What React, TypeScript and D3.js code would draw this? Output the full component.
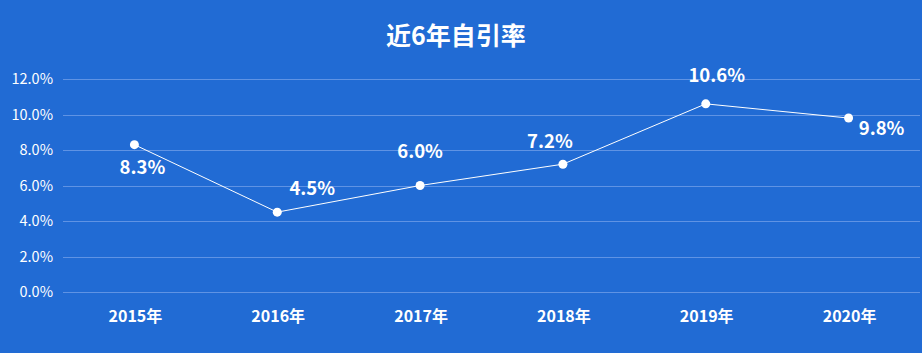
import React, { useRef, useEffect } from "react";
import * as d3 from "d3";

const years = ["2015年", "2016年", "2017年", "2018年", "2019年", "2020年"];
const rates = [8.3, 4.5, 6.0, 7.2, 10.6, 9.8];
const yTicks = [0, 2, 4, 6, 8, 10, 12];
// label offset from its point (dx, dy of text centre)
const labelDx = [8, 35, 0, -13, 11, 33];
const labelDy = [23, -24, -34, -23, -28, 10];

const FONT = "'Noto Sans CJK SC', 'Noto Sans', sans-serif";

function App() {
  const svgRef = useRef<SVGSVGElement | null>(null);

  useEffect(() => {
    const width = 922;
    const height = 353;
    const margin = { top: 79, right: 2, bottom: 61, left: 63 };

    const svg = d3.select(svgRef.current).attr("width", width).attr("height", height);
    svg.selectAll("*").remove();

    svg.append("rect").attr("width", width).attr("height", height).attr("fill", "#216bd4");

    const x = d3.scaleBand().domain(years).range([margin.left, width - margin.right]);
    const y = d3.scaleLinear().domain([0, 12]).range([height - margin.bottom, margin.top]);
    const cx = (i: number) => (x(years[i]) as number) + x.bandwidth() / 2;

    // Title
    svg.append("text")
      .attr("x", width / 2 - 5)
      .attr("y", 45)
      .attr("text-anchor", "middle")
      .attr("font-family", FONT)
      .attr("font-size", 25)
      .attr("font-weight", "bold")
      .attr("fill", "#fff")
      .text("近6年自引率");

    // Grid
    svg.append("g")
      .selectAll("line")
      .data(yTicks)
      .enter()
      .append("line")
      .attr("x1", margin.left)
      .attr("x2", width - margin.right)
      .attr("y1", (d) => Math.round(y(d)) + 0.5)
      .attr("y2", (d) => Math.round(y(d)) + 0.5)
      .attr("stroke", "#5f93e4")
      .attr("stroke-width", 1);

    // Y axis labels
    svg.append("g")
      .selectAll("text")
      .data(yTicks)
      .enter()
      .append("text")
      .attr("x", 53)
      .attr("y", (d) => y(d))
      .attr("dy", "0.35em")
      .attr("text-anchor", "end")
      .attr("font-family", FONT)
      .attr("font-size", 14.5)
      .attr("fill", "#fff")
      .text((d) => d.toFixed(1) + "%");

    // X axis labels
    svg.append("g")
      .selectAll("text")
      .data(years)
      .enter()
      .append("text")
      .attr("x", (d, i) => cx(i) + 1)
      .attr("y", 322)
      .attr("text-anchor", "middle")
      .attr("font-family", FONT)
      .attr("font-size", 16)
      .attr("font-weight", "bold")
      .attr("fill", "#fff")
      .text((d) => d);

    // Line
    const line = d3.line<number>()
      .x((d, i) => cx(i))
      .y((d) => y(d));

    svg.append("path")
      .datum(rates)
      .attr("d", line)
      .attr("fill", "none")
      .attr("stroke", "#fff")
      .attr("stroke-width", 1);

    // Points
    svg.append("g")
      .selectAll("circle")
      .data(rates)
      .enter()
      .append("circle")
      .attr("cx", (d, i) => cx(i))
      .attr("cy", (d) => y(d))
      .attr("r", 4.5)
      .attr("fill", "#fff");

    // Value labels
    svg.append("g")
      .selectAll("text")
      .data(rates)
      .enter()
      .append("text")
      .attr("x", (d, i) => cx(i) + labelDx[i])
      .attr("y", (d, i) => y(d) + labelDy[i])
      .attr("dy", "0.35em")
      .attr("text-anchor", "middle")
      .attr("font-family", FONT)
      .attr("font-size", 18.5)
      .attr("font-weight", "bold")
      .attr("fill", "#fff")
      .text((d) => d.toFixed(1) + "%");
  }, []);

  return <svg ref={svgRef} style={{ position: "absolute", left: 0, top: 0 }}></svg>;
}

export default App;
